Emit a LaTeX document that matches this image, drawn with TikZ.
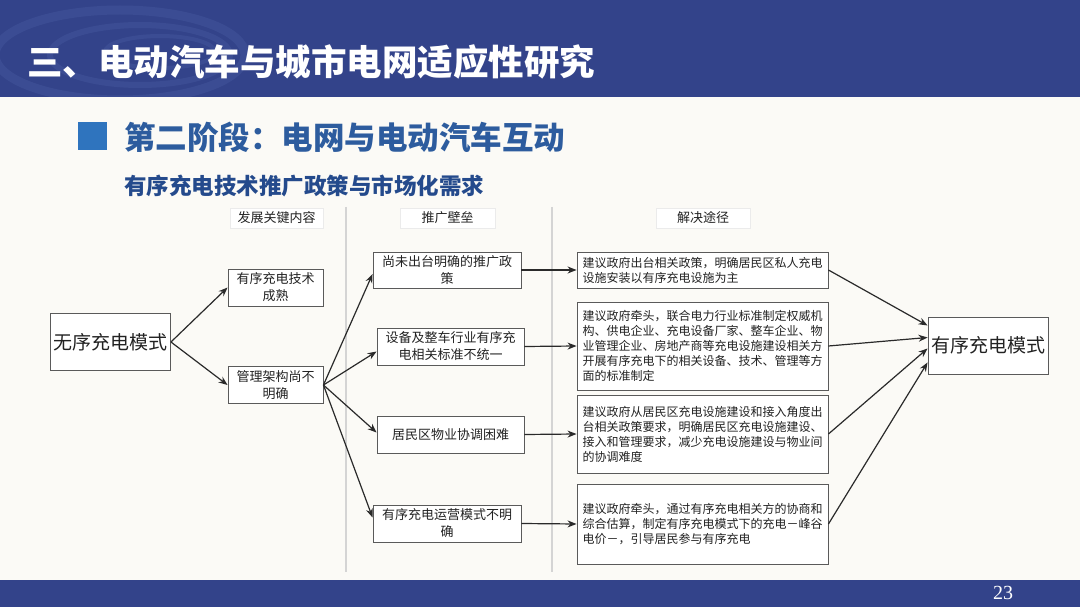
\documentclass[tikz,border=0pt]{standalone}
\usepackage{fontspec}
\setmainfont{Noto Sans CJK SC}
\newfontfamily\numfont{Liberation Serif}
\usetikzlibrary{arrows.meta}
\definecolor{banner}{HTML}{33438A}
\definecolor{swirl}{HTML}{5A70B4}
\definecolor{pagebg}{HTML}{FBFAF6}
\definecolor{sqblue}{HTML}{2F74BE}
\definecolor{headblue}{HTML}{2D5C9E}
\definecolor{subblue}{HTML}{244A8C}
\definecolor{boxline}{HTML}{5A5A5A}
\definecolor{arrowc}{HTML}{2A2A2A}
\definecolor{txt}{HTML}{222222}
\definecolor{sepline}{HTML}{D4D4D4}
\tikzset{
  box/.style={draw=boxline, line width=0.9pt, fill=white, align=center, text=txt,
    inner sep=2pt, font=\fontsize{13}{17}\selectfont},
  bigbox/.style={box, font=\fontsize{19}{22}\selectfont, minimum width=120pt, minimum height=57pt},
  solbox/.style={box, align=left, text width=240pt, inner xsep=5.5pt,
    font=\fontsize{12}{15}\selectfont},
  colhead/.style={fill=white, draw=white!92!black, line width=0.4pt, text=txt,
    font=\fontsize{13}{15}\selectfont, minimum height=20pt, inner sep=1pt},
  conn/.style={draw=arrowc, line width=1.2pt, -{Stealth[length=9pt,width=7pt]}}
}
\begin{document}
\begin{tikzpicture}[x=1pt,y=-1pt]
\useasboundingbox (0,0) rectangle (1080,607);
\fill[pagebg] (0,0) rectangle (1080,607);
% banner
\fill[banner] (0,0) rectangle (1080,97);
\begin{scope}
\clip (0,0) rectangle (1080,97);
\begin{scope}[opacity=0.22]
\draw[swirl, line width=9pt] (120,55) ellipse (125 and 45);
\draw[swirl, line width=6pt] (140,55) ellipse (90 and 30);
\draw[swirl, line width=4pt] (160,52) ellipse (55 and 16);
\end{scope}
\end{scope}
\node[anchor=west, text=white, font=\fontsize{35.5}{40}\bfseries\selectfont, inner sep=0] (title) at (27,62) {三、电动汽车与城市电网适应性研究};
% heading
\fill[sqblue] (78,122) rectangle (107,150);
\node[anchor=west, text=headblue, font=\fontsize{31.5}{36}\bfseries\selectfont, inner sep=0] (head) at (124,137) {第二阶段：电网与电动汽车互动};
\node[anchor=west, text=subblue, font=\fontsize{22.5}{26}\bfseries\selectfont, inner sep=0] (sub) at (124,186) {有序充电技术推广政策与市场化需求};
% column separators
\draw[sepline, line width=1.2pt] (346,207) -- (346,572);
\draw[sepline, line width=1.2pt] (552,207) -- (552,572);
% column headers
\node[colhead, minimum width=93pt] (h1) at (276.5,218) {发展关键内容};
\node[colhead, minimum width=95pt] (h2) at (447.5,218) {推广壁垒};
\node[colhead, minimum width=94pt] (h3) at (703,218) {解决途径};
% nodes
\node[bigbox] (start) at (110.5,342) {无序充电模式};
\node[box, minimum width=95pt, minimum height=37pt] (k1) at (275.5,287.5) {有序充电技术\\成熟};
\node[box, minimum width=95pt, minimum height=37pt] (k2) at (275.5,385) {管理架构尚不\\明确};
\node[box, minimum width=148pt, minimum height=36pt] (b1) at (447,270) {尚未出台明确的推广政\\策};
\node[box, minimum width=147pt, minimum height=37pt] (b2) at (450.5,346.5) {设备及整车行业有序充\\电相关标准不统一};
\node[box, minimum width=147pt, minimum height=37pt] (b3) at (450.5,434.5) {居民区物业协调困难};
\node[box, minimum width=148pt, minimum height=37pt] (b4) at (447,523.5) {有序充电运营模式不明\\确};
\node[solbox, minimum height=36pt] (s1) at (702.5,270) {建议政府出台相关政策，明确居民区私人充电\\设施安装以有序充电设施为主};
\node[solbox, minimum height=88pt] (s2) at (702.5,346) {建议政府牵头，联合电力行业标准制定权威机\\构、供电企业、充电设备厂家、整车企业、物\\业管理企业、房地产商等充电设施建设相关方\\开展有序充电下的相关设备、技术、管理等方\\面的标准制定};
\node[solbox, minimum height=78pt] (s3) at (702.5,434) {建议政府从居民区充电设施建设和接入角度出\\台相关政策要求，明确居民区充电设施建设、\\接入和管理要求，减少充电设施建设与物业间\\的协调难度};
\node[solbox, minimum height=80pt] (s4) at (702.5,524) {建议政府牵头，通过有序充电相关方的协商和\\综合估算，制定有序充电模式下的充电－峰谷\\电价－，引导居民参与有序充电};
\node[bigbox] (goal) at (988,345.5) {有序充电模式};
% connectors
\draw[conn] (start.east) -- (k1.west);
\draw[conn] (start.east) -- (k2.west);
\draw[conn] (k2.east) -- ([yshift=-4pt]b1.west);
\draw[conn] (k2.east) -- ([yshift=-5pt]b2.west);
\draw[conn] (k2.east) -- ([yshift=2pt]b3.west);
\draw[conn] (k2.east) -- ([yshift=6pt]b4.west);
\draw[conn] (b1.east) -- (s1.west);
\draw[conn] (b2.east) -- (s2.west);
\draw[conn] (b3.east) -- (s3.west);
\draw[conn] (b4.east) -- (s4.west);
\draw[conn] (s1.east) -- ([yshift=20pt]goal.west);
\draw[conn] (s2.east) -- ([yshift=8pt]goal.west);
\draw[conn] (s3.east) -- ([yshift=-3pt]goal.west);
\draw[conn] (s4.east) -- ([yshift=-17pt]goal.west);
% footer
\fill[banner] (0,580) rectangle (1080,607);
\node[text=white, font=\numfont\fontsize{20}{22}\selectfont, inner sep=0] (page) at (1003,593) {23};
\end{tikzpicture}
\end{document}
